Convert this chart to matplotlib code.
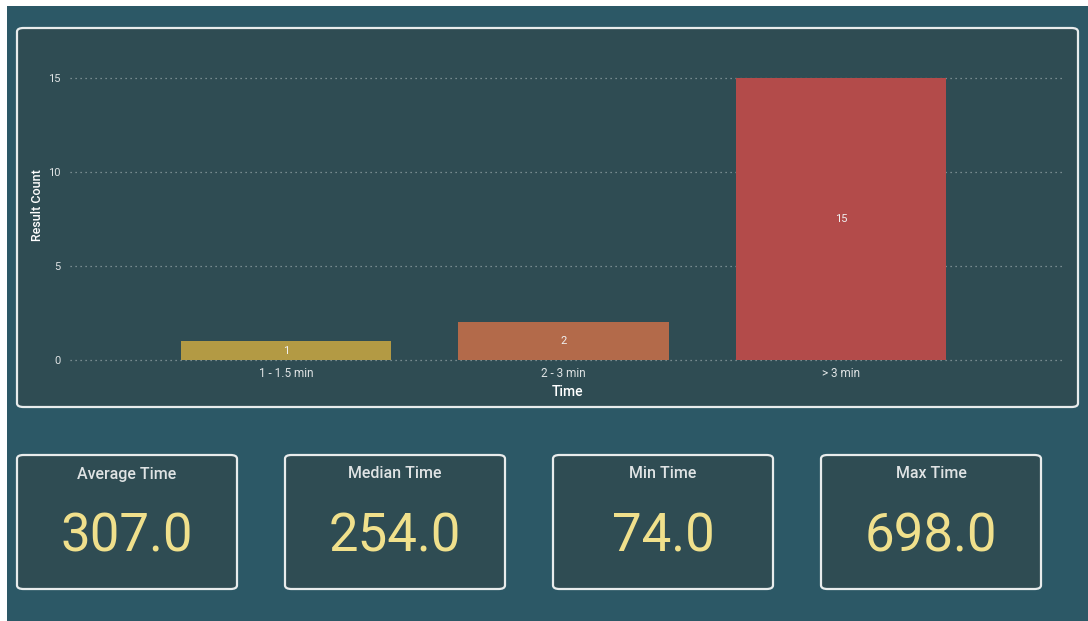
import matplotlib.pyplot as plt
from matplotlib.patches import FancyBboxPatch, Rectangle

# data
categories = ["1 - 1.5 min", "2 - 3 min", "> 3 min"]
counts = [1, 2, 15]
bar_colors = ["#b39a44", "#b36a4a", "#b34b4a"]

kpi_titles = ["Average Time", "Median Time", "Min Time", "Max Time"]
kpi_values = [307.0, 254.0, 74.0, 698.0]

BG = "#2c5866"
PANEL = "#2f4c53"
TXT = "#dfe3e4"
YELLOW = "#f0e08c"

W, H = 1088, 621
fig = plt.figure(figsize=(W / 100, H / 100), dpi=100, facecolor="white")
plt.rcParams["font.family"] = ["Roboto", "DejaVu Sans"]


def px(x, y):
    # pixel coords (top-left origin) -> figure fraction
    return x / W, 1 - y / H


def panel(x0, y0, x1, y1):
    fx0, fy1 = px(x0, y0)
    fx1, fy0 = px(x1, y1)
    p = FancyBboxPatch((fx0, fy0), fx1 - fx0, fy1 - fy0,
                       boxstyle="round,pad=0,rounding_size=0.006",
                       transform=fig.transFigure, facecolor=PANEL,
                       edgecolor="#e8ecec", linewidth=1.6, zorder=1)
    fig.patches.append(p)


# teal page background
fx0, fy1 = px(7, 6)
fig.patches.append(Rectangle((fx0, 0), 1 - fx0, fy1, transform=fig.transFigure,
                             facecolor=BG, edgecolor="none", zorder=0))

# chart panel
panel(17, 28, 1078, 407)

ax = fig.add_axes([70 / W, (H - 360) / H, (1065 - 70) / W, 310 / H])
ax.set_facecolor("none")
ax.set_zorder(2)
x = list(range(len(categories)))
bars = ax.bar(x, counts, width=0.757, color=bar_colors, zorder=3)
for b, v in zip(bars, counts):
    ax.text(b.get_x() + b.get_width() / 2, v / 2, str(v), ha="center", va="center",
            color="#f0f0f0", fontsize=8, zorder=4)
ax.set_xlim(-0.778, 2.807)
ax.set_ylim(0, 16.5)
ax.set_yticks([0, 5, 10, 15])
ax.set_xticks(x)
ax.set_xticklabels(categories)
ax.grid(axis="y", linestyle=(0, (1, 3)), color="#8fa0a4", linewidth=0.9, zorder=0)
for gl in ax.get_ygridlines():
    gl.set_clip_on(False)
for s in ax.spines.values():
    s.set_visible(False)
ax.tick_params(length=0, colors=TXT, labelsize=8)
ax.tick_params(axis="y", pad=7)
ax.tick_params(axis="x", pad=5, labelsize=8.5)
ax.set_ylabel("Result Count", color="white", fontsize=9, fontweight="medium", labelpad=3)
ax.set_xlabel("Time", color="white", fontsize=10, fontweight="medium", labelpad=4)

# KPI cards
card_x = [17, 285, 553, 821]
for cx, title, val in zip(card_x, kpi_titles, kpi_values):
    panel(cx, 455, cx + 220, 589)
    tx, ty = px(cx + 110, 474)
    fig.text(tx, ty, title, ha="center", va="center", color=TXT, fontsize=11.5,
             fontweight="medium")
    vx, vy = px(cx + 110, 537)
    fig.text(vx, vy, f"{val:.1f}", ha="center", va="center", color=YELLOW,
             fontsize=38)

fig.savefig("out.png", dpi=100, facecolor=fig.get_facecolor())
